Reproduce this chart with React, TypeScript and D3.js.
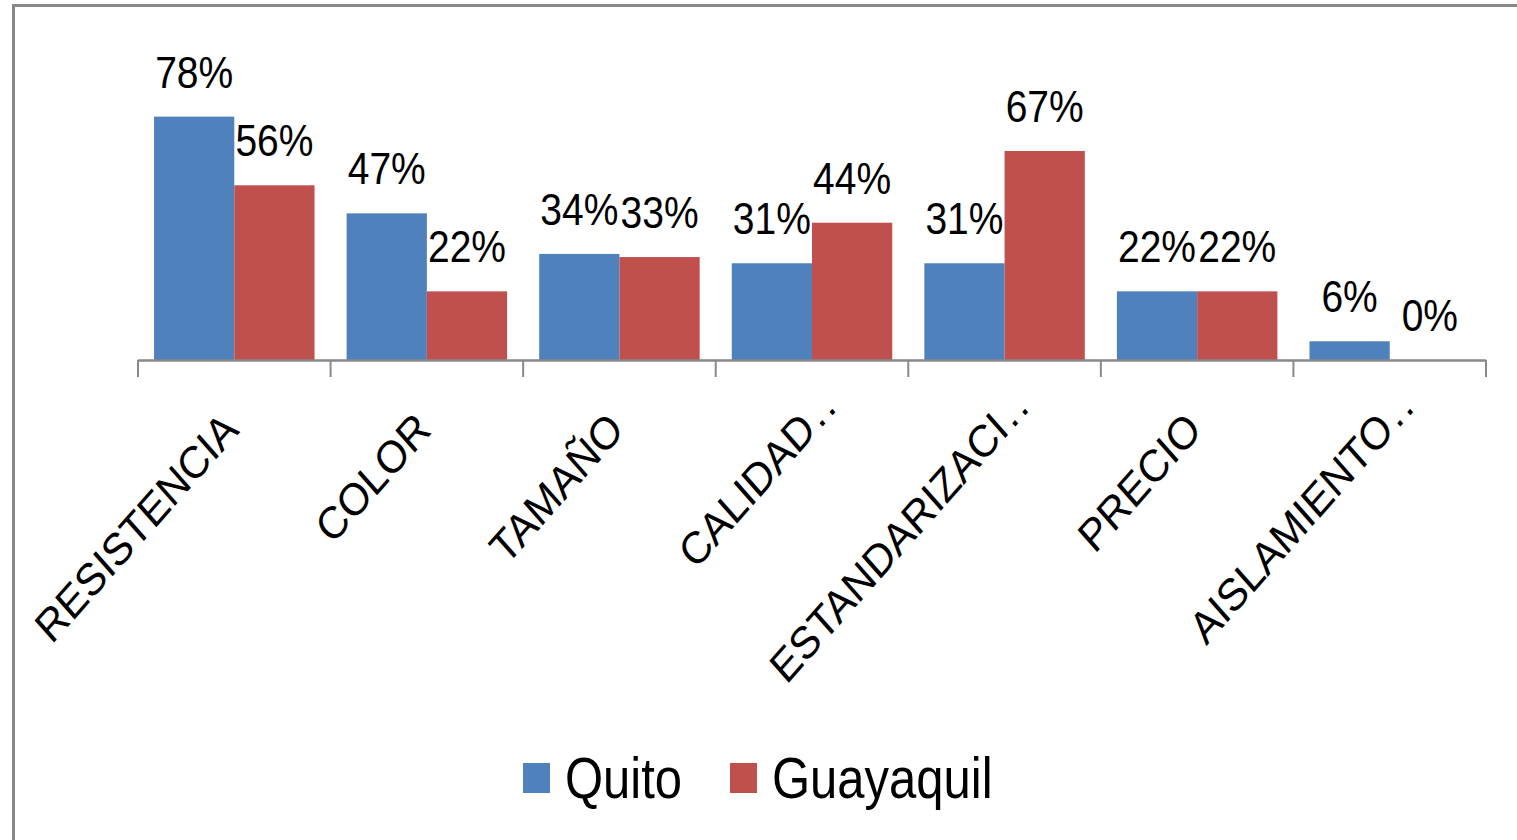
import React from 'react';
import * as d3 from 'd3';

// categories as they show on the axis (Excel truncated the long ones)
const categories = [
  'RESISTENCIA',
  'COLOR',
  'TAMAÑO',
  'CALIDAD..',
  'ESTANDARIZACI..',
  'PRECIO',
  'AISLAMIENTO..',
];
const seriesNames = ['Quito', 'Guayaquil'];
const quito = [0.78, 0.47, 0.34, 0.31, 0.31, 0.22, 0.06];
const guayaquil = [0.56, 0.22, 0.33, 0.44, 0.67, 0.22, 0];
const seriesColors = ['#4F81BD', '#C0504D'];

const W = 1517;
const H = 840;
const AXIS_Y = 360;
const STRETCH = 1.13; // the picture is a bit taller than wide
const FONT = '"Liberation Sans", Arial, sans-serif';
const BORDER = '#898989';

const App = () => {
  const x0 = d3
    .scaleBand<string>()
    .domain(categories)
    .range([138, 1486])
    .paddingInner(0)
    .paddingOuter(0);
  const x1 = d3
    .scaleBand<string>()
    .domain(seriesNames)
    .range([0, x0.bandwidth()])
    .paddingInner(0)
    .paddingOuter(0.2);
  const y = d3.scaleLinear().domain([0, 1]).range([AXIS_Y, AXIS_Y - 312]);

  const rows = categories.map((c, i) => ({
    category: c,
    values: [quito[i], guayaquil[i]],
  }));
  const fmt = d3.format('.0%');

  // tick positions are the band edges
  const ticks = categories.map((c) => x0(c) as number).concat([x0.range()[1]]);

  return (
    <svg
      width={W}
      height={H}
      style={{ position: 'absolute', left: 0, top: 0, background: '#fff' }}
      fontFamily={FONT}
    >
      <rect x={0} y={0} width={W} height={H} fill="#fff" />
      {/* chart area border (only left/top are in frame) */}
      <path
        d={`M13.5,${H} L13.5,5.5 L${W},5.5`}
        fill="none"
        stroke={BORDER}
        strokeWidth={3}
      />

      {/* bars */}
      {rows.map((r) => (
        <g key={r.category} transform={`translate(${x0(r.category)},0)`}>
          {r.values.map((v, j) => (
            <rect
              key={seriesNames[j]}
              x={x1(seriesNames[j])}
              y={y(v)}
              width={x1.bandwidth()}
              height={AXIS_Y - y(v)}
              fill={seriesColors[j]}
            />
          ))}
        </g>
      ))}

      {/* axis */}
      <line
        x1={x0.range()[0]}
        x2={x0.range()[1]}
        y1={AXIS_Y + 0.5}
        y2={AXIS_Y + 0.5}
        stroke={BORDER}
        strokeWidth={2.5}
      />
      {ticks.map((t, i) => (
        <line
          key={i}
          x1={t}
          x2={t}
          y1={AXIS_Y}
          y2={AXIS_Y + 17}
          stroke={BORDER}
          strokeWidth={2}
        />
      ))}

      {/* value labels */}
      {rows.map((r) =>
        r.values.map((v, j) => {
          const cx = (x0(r.category) as number) + (x1(seriesNames[j]) as number) + x1.bandwidth() / 2;
          return (
            <g
              key={r.category + j}
              transform={`translate(${cx},${y(v) - 29}) scale(1,${STRETCH})`}
            >
              <text textAnchor="middle" fontSize={39} fill="#000">
                {fmt(v)}
              </text>
            </g>
          );
        })
      )}

      {/* category labels, rotated */}
      {categories.map((c) => {
        const cx = (x0(c) as number) + x0.bandwidth() / 2;
        const main = c.replace(/\.+$/, '');
        const dots = c.length > main.length;
        return (
          <g
            key={c}
            transform={`translate(${cx + 6},432) scale(1,${STRETCH}) rotate(-45)`}
          >
            <text textAnchor="end" fontSize={40} fill="#000">
              {main}
            </text>
            {dots && (
              <text x={3} fontSize={40} letterSpacing={3} fill="#000">
                ..
              </text>
            )}
          </g>
        );
      })}

      {/* legend */}
      {seriesNames.map((s, i) => {
        const lx = i === 0 ? 523 : 730;
        return (
          <g key={s}>
            <rect x={lx} y={763} width={27} height={30} fill={seriesColors[i]} />
            <g transform={`translate(${lx + 42},798) scale(1,1.18)`}>
              <text fontSize={49} fill="#000">
                {s}
              </text>
            </g>
          </g>
        );
      })}
    </svg>
  );
};

export default App;
